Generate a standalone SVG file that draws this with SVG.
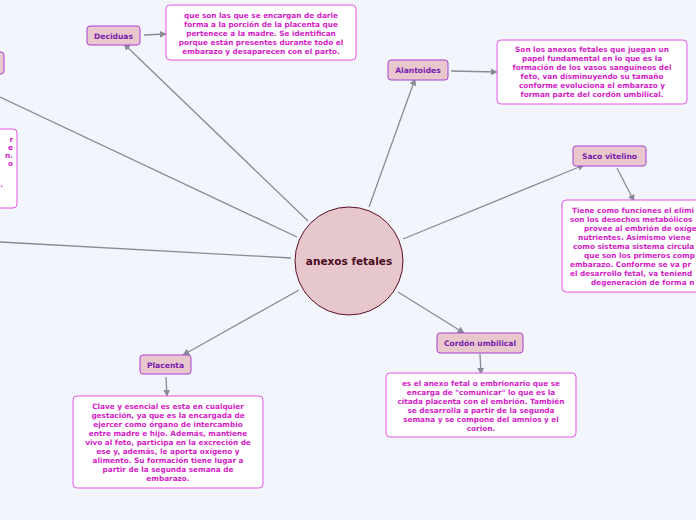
<svg xmlns="http://www.w3.org/2000/svg" width="696" height="520" viewBox="0 0 696 520">
<defs>
<marker id="arr" viewBox="0 0 10 10" refX="9" refY="5" markerWidth="7" markerHeight="7" markerUnits="userSpaceOnUse" orient="auto">
<path d="M0,0 L10,5 L0,10 z" fill="#8a8a96"/>
</marker>
<style>
.bg{fill:#f3f5fd}
.con line{stroke:#8a8a96;stroke-width:1.3;fill:none}
.node rect{fill:#e8c8cc;stroke:#a63fd6;stroke-width:1}
.node text{font-family:"DejaVu Sans",Verdana,sans-serif;font-weight:bold;font-size:7.6px;fill:#7a22b0;text-anchor:middle}
.desc rect{fill:#ffffff;stroke:#e456e4;stroke-width:1}
.desc text{font-family:"DejaVu Sans",Verdana,sans-serif;font-weight:bold;font-size:7.3px;fill:#d422c8;text-anchor:middle}
.desc text.l{text-anchor:start}
.desc text.r{text-anchor:end}
</style>
</defs>
<rect class="bg" x="0" y="0" width="696" height="520"/>
<g id="connectors" class="con">
<line x1="308" y1="221" x2="124" y2="44" marker-end="url(#arr)"/>
<line x1="144" y1="35" x2="166" y2="34" marker-end="url(#arr)"/>
<line x1="369" y1="207" x2="415" y2="79" marker-end="url(#arr)"/>
<line x1="451" y1="71" x2="497" y2="72" marker-end="url(#arr)"/>
<line x1="403" y1="239" x2="584" y2="165" marker-end="url(#arr)"/>
<line x1="617" y1="168" x2="634" y2="201" marker-end="url(#arr)"/>
<line x1="398" y1="292" x2="464" y2="333" marker-end="url(#arr)"/>
<line x1="480" y1="354" x2="481" y2="374" marker-end="url(#arr)"/>
<line x1="299" y1="290" x2="183" y2="355" marker-end="url(#arr)"/>
<line x1="166" y1="377" x2="167" y2="396" marker-end="url(#arr)"/>
<line x1="297" y1="237" x2="0" y2="97"/>
<line x1="291" y1="258" x2="0" y2="242"/>
</g>
<g id="center">
<circle cx="349" cy="261" r="54" fill="#e6c8cc" stroke="#5a1026" stroke-width="1"/>
<text x="349" y="265" font-family="DejaVu Sans,Verdana,sans-serif" font-weight="bold" font-size="10.5" fill="#4a0a1e" text-anchor="middle">anexos fetales</text>
</g>
<g id="deciduas" class="node"><rect x="87" y="26" width="53" height="19" rx="3"/><text x="113.5" y="38.5">Deciduas</text></g>
<g id="deciduas-desc" class="desc"><rect x="166" y="5" width="190" height="55" rx="4"/>
<text x="261" y="18">que son las que se encargan de darle</text>
<text x="261" y="27">forma a la porción de la placenta que</text>
<text x="261" y="36">pertenece a la madre. Se identifican</text>
<text x="261" y="45">porque están presentes durante todo el</text>
<text x="261" y="54">embarazo y desaparecen con el parto.</text>
</g>
<g id="alantoides" class="node"><rect x="388" y="60" width="60" height="20" rx="3"/><text x="418" y="73">Alantoides</text></g>
<g id="alantoides-desc" class="desc"><rect x="497" y="40" width="190" height="64" rx="4"/>
<text x="592" y="52">Son los anexos fetales que juegan un</text>
<text x="592" y="61">papel fundamental en lo que es la</text>
<text x="592" y="70">formación de los vasos sanguíneos del</text>
<text x="592" y="79">feto, van disminuyendo su tamaño</text>
<text x="592" y="88">conforme evoluciona el embarazo y</text>
<text x="592" y="97">forman parte del cordón umbilical.</text>
</g>
<g id="saco" class="node"><rect x="573" y="146" width="73" height="20" rx="3"/><text x="609.5" y="159">Saco vitelino</text></g>
<g id="saco-desc" class="desc"><rect x="562" y="200" width="190" height="92" rx="4"/>
<text class="l" x="572" y="213">Tiene como funciones el elimi</text>
<text class="l" x="570" y="222">son los desechos metabólicos</text>
<text class="l" x="584" y="231">provee al embrión de oxíge</text>
<text class="l" x="578" y="240">nutrientes. Asimismo viene</text>
<text class="l" x="573" y="249">como sistema sistema circula</text>
<text class="l" x="584" y="258">que son los primeros comp</text>
<text class="l" x="570" y="267">embarazo. Conforme se va pr</text>
<text class="l" x="570" y="276">el desarrollo fetal, va teniend</text>
<text class="l" x="591" y="285">degeneración de forma n</text>
</g>
<g id="cordon" class="node"><rect x="437" y="333" width="86" height="20" rx="3"/><text x="480" y="346">Cordón umbilical</text></g>
<g id="cordon-desc" class="desc"><rect x="386" y="373" width="190" height="64" rx="4"/>
<text x="481" y="386">es el anexo fetal o embrionario que se</text>
<text x="481" y="395">encarga de "comunicar" lo que es la</text>
<text x="481" y="404">citada placenta con el embrión. También</text>
<text x="481" y="413">se desarrolla a partir de la segunda</text>
<text x="481" y="422">semana y se compone del amnios y el</text>
<text x="481" y="431">corion.</text>
</g>
<g id="placenta" class="node"><rect x="140" y="355" width="51" height="19" rx="3"/><text x="165.5" y="367.5">Placenta</text></g>
<g id="placenta-desc" class="desc"><rect x="73" y="396" width="190" height="92" rx="4"/>
<text x="168" y="409">Clave y esencial es esta en cualquier</text>
<text x="168" y="418">gestación, ya que es la encargada de</text>
<text x="168" y="427">ejercer como órgano de intercambio</text>
<text x="168" y="436">entre madre e hijo. Además, mantiene</text>
<text x="168" y="445">vivo al feto, participa en la excreción de</text>
<text x="168" y="454">ese y, además, le aporta oxígeno y</text>
<text x="168" y="463">alimento. Su formación tiene lugar a</text>
<text x="168" y="472">partir de la segunda semana de</text>
<text x="168" y="481">embarazo.</text>
</g>
<g id="left-node" class="node"><rect x="-60" y="52" width="64" height="22" rx="3"/></g>
<g id="left-desc" class="desc"><rect x="-180" y="129" width="197" height="79" rx="4"/>
<text class="r" x="13" y="142">r</text>
<text class="r" x="13" y="150">e</text>
<text class="r" x="13" y="158">n.</text>
<text class="r" x="13" y="166">o</text>
<text class="r" x="3" y="187">.</text>
</g>
</svg>
